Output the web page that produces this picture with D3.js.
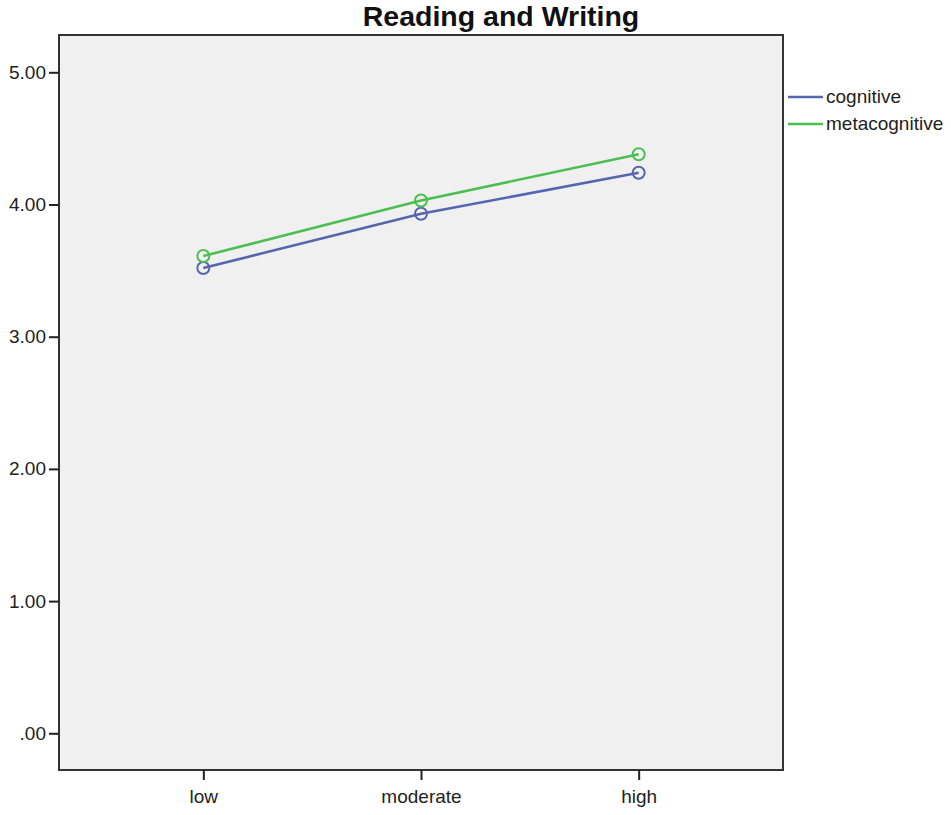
<!DOCTYPE html>
<html><head><meta charset="utf-8">
<script src="https://cdn.jsdelivr.net/npm/d3@7/dist/d3.min.js"></script>
<style>body{margin:0;background:#fff;} text{font-family:Arial,"Liberation Sans",sans-serif;}</style>
</head><body>
<svg id="chart" width="951" height="815"></svg>
<script>
const categories = ["low", "moderate", "high"];
const seriesNames = ["cognitive", "metacognitive"];
const cognitive = [3.52, 3.93, 4.24];
const metacognitive = [3.61, 4.03, 4.38];
const yTicks = [0, 1, 2, 3, 4, 5];
const colors = ["#5566b0", "#4cbf52"];
const chartTitle = "Reading and Writing";

const svg = d3.select("#chart");
const pLeft = 59, pRight = 783, pTop = 35, pBottom = 770;

const x = d3.scalePoint().domain(categories).range([pLeft, pRight]).padding(0.663);
const y = d3.scaleLinear().domain([0, 5]).range([733.3, 72.3]);

svg.append("rect").attr("x", pLeft).attr("y", pTop).attr("width", pRight - pLeft).attr("height", pBottom - pTop)
  .attr("fill", "#f0f0f0").attr("stroke", "#333").attr("stroke-width", 2);

const yAxis = svg.append("g").attr("transform", `translate(${pLeft},0)`)
  .call(d3.axisLeft(y).tickValues(yTicks).tickSize(10).tickPadding(3)
    .tickFormat(d => d === 0 ? ".00" : d3.format(".2f")(d)));
yAxis.select(".domain").remove();
yAxis.selectAll("line").attr("stroke", "#222").attr("stroke-width", 2);
yAxis.selectAll("text").attr("font-size", 19).attr("fill", "#222").style("font-family", "Arial, 'Liberation Sans', sans-serif");

const xAxis = svg.append("g").attr("transform", `translate(0,${pBottom})`)
  .call(d3.axisBottom(x).tickSize(10).tickPadding(10));
xAxis.select(".domain").remove();
xAxis.selectAll("line").attr("stroke", "#222").attr("stroke-width", 2);
xAxis.selectAll("text").attr("font-size", 19).attr("fill", "#222").style("font-family", "Arial, 'Liberation Sans', sans-serif");

const data = [cognitive, metacognitive];
const line = d3.line().x((d, i) => x(categories[i])).y(d => y(d));
data.forEach((vals, si) => {
  svg.append("path").datum(vals).attr("d", line).attr("fill", "none")
    .attr("stroke", colors[si]).attr("stroke-width", 2.5);
  svg.selectAll(null).data(vals).enter().append("circle")
    .attr("cx", (d, i) => x(categories[i])).attr("cy", d => y(d)).attr("r", 6)
    .attr("fill", "none").attr("stroke", colors[si]).attr("stroke-width", 2);
});

svg.append("text").attr("x", 501).attr("y", 26).attr("text-anchor", "middle")
  .attr("font-size", 28.5).attr("font-weight", "bold").attr("fill", "#111").text(chartTitle);

const lg = svg.append("g");
seriesNames.forEach((n, i) => {
  const yy = 97 + i * 27;
  lg.append("line").attr("x1", 788).attr("x2", 823).attr("y1", yy).attr("y2", yy)
    .attr("stroke", colors[i]).attr("stroke-width", 2.5);
  lg.append("text").attr("x", 826).attr("y", yy + 6).attr("font-size", 19).attr("fill", "#222").text(n);
});
</script>
</body></html>
